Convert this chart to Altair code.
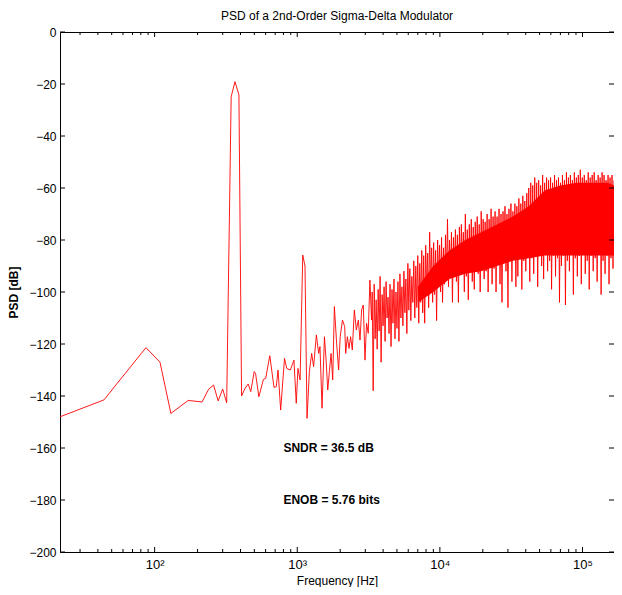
import altair as alt
import pandas as pd

# ---- data ----
low_freq = [21.7, 44.1, 86.9, 109, 130, 172, 215, 239, 259, 279, 300, 320,
            344, 366, 390, 407, 431, 453, 472, 499, 510, 538, 579, 601, 642,
            687, 713, 733, 765, 814, 844, 894, 948, 984, 1011, 1047, 1093,
            1133, 1171, 1216, 1262, 1302, 1362, 1413, 1443, 1492, 1551, 1593,
            1636, 1680, 1726, 1773, 1821, 1888, 1950, 2000, 2075, 2151, 2186,
            2245, 2306, 2366, 2432, 2513, 2596, 2682, 2755, 2827, 2905, 2984,
            3062, 3146, 3232, 3317]
low_psd = [-148, -141.5, -121.4, -127, -146.7, -141.7, -142.3, -137.4, -135.8,
           -141.9, -137.3, -142.6, -24.9, -19.1, -24.2, -140, -137, -135.4,
           -138.3, -130.6, -131.3, -140.3, -133.6, -133.2, -124.5, -136.7,
           -136.4, -130, -145.4, -125.5, -129.4, -130, -126.2, -142.8, -129.4,
           -133.8, -85.8, -90, -148.6, -130.6, -123.6, -128.7, -116.5, -123.6,
           -121, -144.7, -117.2, -126.2, -137.7, -130.6, -123.6, -133.8,
           -105.6, -119.7, -130, -117.2, -110.8, -113.3, -123.6, -117.2,
           -121.7, -117.2, -122.3, -106.9, -114.6, -110.8, -118.5, -106.9,
           -105, -126.2, -112, -115.9, -95.4, -110.8]

# dense noise region: upper swings and lower swings
peak_freq = [3353, 3462, 3575, 3691, 3811, 3935, 4063, 4195, 4331, 4472, 4617,
             4767, 4922, 5082, 5247, 5418, 5594, 5776, 5964, 6158, 6358, 6565,
             6778, 6998, 7226, 7461, 7703, 7954, 8212, 8479, 8755, 9040, 9334,
             9637, 9951, 10274, 10608, 10953, 11309, 11677, 12056, 12449,
             12853, 13271, 13703, 14148, 14608, 15083, 15573, 16080, 16603,
             17143, 17700, 18276, 18870, 19484, 20117, 20771, 21447, 22144,
             22864, 23613, 24381, 25174, 25992, 26837, 27710, 28611, 29541,
             30502, 31493, 32517, 33575, 34666, 35794, 36957, 38159, 39400,
             40681, 42004, 43370, 44780, 46236, 47740, 49292, 50895, 52550,
             54259, 56023, 57845, 59726, 61668, 63673, 65744, 67882, 70089,
             72368, 74721, 77151, 79660, 82250, 84925, 87687, 90538, 93482,
             96522, 99661, 102901, 106247, 109702, 113270, 116953, 120756,
             124683, 128737, 132923, 137246, 141709, 146317, 151075, 155987,
             161060, 166297]
peak_psd = [-100, -97, -103, -99, -94, -101, -98, -96, -102, -97, -99, -95,
            -100, -96, -93, -98, -92, -95, -89, -91, -94, -88, -90, -86, -89,
            -84, -86, -82, -85, -77, -83, -81, -84, -80, -82, -79, -83, -78,
            -72, -80, -77, -79, -76, -78, -75, -74, -77, -70, -76, -74, -72,
            -75, -73, -71, -74, -69, -72, -73, -70, -72, -68, -71, -69, -71,
            -68, -70, -69, -67, -70, -68, -66, -69, -66, -67, -64, -66, -63,
            -65, -62, -60, -58, -59, -56, -58, -57, -59, -55, -58, -56, -57,
            -56, -58, -55, -57, -56, -58, -55, -57, -54, -56, -55, -57, -54,
            -56, -55, -53, -56, -55, -57, -54, -56, -55, -54, -57, -55, -56,
            -54, -55, -57, -55, -56, -55, -57]

dip_freq = [3407, 3518, 3633, 3751, 3872, 3998, 4128, 4263, 4401, 4544, 4691,
            4844, 5001, 5164, 5332, 5505, 5684, 5869, 6060, 6257, 6461, 6671,
            6888, 7111, 7343, 7582, 7827, 8082, 8344, 8616, 8896, 9186, 9484,
            9792, 10111, 10440, 10779, 11130, 11491, 11865, 12250, 12650,
            13060, 13485, 13924, 14376, 14844, 15326, 15824, 16339, 16871,
            17419, 17985, 18571, 19174, 19798, 20442, 21105, 21792, 22501,
            23232, 23987, 24767, 25571, 26403, 27261, 28148, 29063, 30007,
            30994, 32001, 33041, 34116, 35225, 36371, 37553, 38774, 40035,
            41337, 42681, 44069, 45502, 46982, 48510, 50087, 51716, 53397,
            55133, 56926, 58778, 60689, 62662, 64698, 66803, 68977, 71219,
            73535, 75926, 78395, 80944, 83577, 86294, 89101, 91998, 94990,
            98078, 101268, 104561, 107960, 111471, 115097, 118839, 122703,
            126694, 130813, 135067, 139460, 143994, 148676, 153511, 158504,
            163657]
dip_psd = [-138, -118, -122, -115, -127, -113, -119, -110, -116, -121, -112,
           -118, -114, -119, -110, -113, -108, -116, -107, -111, -104, -110,
           -106, -112, -104, -108, -112, -100, -106, -98, -104, -101, -111,
           -96, -100, -104, -97, -95, -98, -94, -104, -92, -96, -104, -93,
           -91, -100, -94, -103, -92, -96, -99, -90, -93, -100, -89, -95, -92,
           -100, -88, -97, -91, -100, -88, -97, -104, -87, -92, -106, -88,
           -96, -86, -98, -94, -86, -99, -88, -92, -85, -96, -87, -93, -86,
           -98, -85, -90, -95, -85, -92, -88, -99, -86, -94, -87, -104, -90,
           -86, -105, -88, -92, -85, -101, -87, -94, -86, -97, -85, -93, -88,
           -99, -86, -92, -87, -96, -85, -101, -88, -93, -86, -97, -87, -91]

# solid core of the noise band
core_freq = [7000, 9000, 11677, 15083, 19484, 25174, 32517, 42004, 54259,
             70089, 90538, 116953, 151075, 166297]
core_top = [-98, -90, -84, -80, -77, -74, -71, -67, -61, -59, -58, -58, -58,
            -59]
core_bot = [-104, -100, -95, -93, -92, -90, -88, -87, -86, -86, -86, -86,
            -86, -86]

x_major = [100, 1000, 10000, 100000]
x_minor = [30, 40, 50, 60, 70, 80, 90, 200, 300, 400, 500, 600, 700, 800, 900,
           2000, 3000, 4000, 5000, 6000, 7000, 8000, 9000, 20000, 30000,
           40000, 50000, 60000, 70000, 80000, 90000]
y_ticks = [-200, -180, -160, -140, -120, -100, -80, -60, -40, -20, 0]

notes = ["SNDR = 36.5 dB", "ENOB = 5.76 bits"]
note_freq = [800, 800]
note_psd = [-160, -180]

# ---- tables ----
line_df = pd.DataFrame({"f": low_freq + peak_freq + dip_freq,
                        "psd": low_psd + peak_psd + dip_psd})
line_df = line_df.sort_values("f").reset_index(drop=True)
line_df["order"] = range(len(line_df))
core_df = pd.DataFrame({"f": core_freq, "psd": core_top, "bot": core_bot})
note_df = pd.DataFrame({"f": note_freq, "psd": note_psd, "text": notes})
xmaj_df = pd.DataFrame({"f": x_major})
xmin_df = pd.DataFrame({"f": x_minor})
yt_df = pd.DataFrame({"psd": y_ticks})

W, H = 554, 520
xscale = alt.Scale(type="log", domain=[21.7, 166297], nice=False)
yscale = alt.Scale(domain=[-200, 0], nice=False)

label_expr = ("datum.value == 100 ? '10²' : datum.value == 1000 ? '10³' : "
              "datum.value == 10000 ? '10⁴' : '10⁵'")

x_axis = alt.Axis(values=x_major, labelExpr=label_expr, ticks=False,
                  domain=False, grid=False, title="Frequency [Hz]",
                  labelFontSize=13, titleFontSize=12, titleFontWeight="normal",
                  labelPadding=6, titlePadding=4, labelColor="black",
                  titleColor="black", labelFont="Liberation Sans",
                  titleFont="Liberation Sans")
y_axis = alt.Axis(values=y_ticks, ticks=False, domain=False, grid=False,
                  title="PSD [dB]", labelFontSize=12, titleFontSize=12,
                  titleFontWeight="bold", labelPadding=4, titlePadding=8,
                  labelColor="black", titleColor="black",
                  labelFont="Liberation Sans", titleFont="Liberation Sans")

X = alt.X("f:Q", scale=xscale, axis=x_axis)
Y = alt.Y("psd:Q", scale=yscale, axis=y_axis)

core = alt.Chart(core_df).mark_area(color="#ff0000", clip=True).encode(
    x=X, y=Y, y2="bot:Q",
)

line = alt.Chart(line_df).mark_line(color="#ff0000", strokeWidth=0.9,
                                     clip=True).encode(
    x=X, y=Y, order="order:Q",
)

text = alt.Chart(note_df).mark_text(align="left", baseline="middle",
                                    fontWeight="bold", fontSize=12,
                                    font="Liberation Sans",
                                    color="black").encode(
    x=X, y=Y, text="text:N",
)

def xticks(df, y0, y1):
    return alt.Chart(df).mark_rule(color="black", strokeWidth=1).encode(
        x=X, y=alt.value(y0), y2=alt.value(y1))

def yticks(x0, x1):
    return alt.Chart(yt_df).mark_rule(color="black", strokeWidth=1).encode(
        y=Y, x=alt.value(x0), x2=alt.value(x1))

ticks = [
    xticks(xmaj_df, H, H - 5), xticks(xmin_df, H, H - 3),
    xticks(xmaj_df, 0, 5), xticks(xmin_df, 0, 3),
    yticks(0, 5), yticks(W, W - 5),
]

chart = alt.layer(core, line, text, *ticks).properties(
    width=W, height=H,
    title=alt.TitleParams("PSD of a 2nd-Order Sigma-Delta Modulator",
                          fontSize=12, fontWeight="normal",
                          font="Liberation Sans", color="black", offset=3),
    autosize=alt.AutoSizeParams(type="none"),
    padding={"left": 52, "top": 24, "right": 0, "bottom": 35},
).configure(background="white").configure_view(stroke="black", strokeWidth=1)

chart.save("out.html", embed_options={"renderer": "svg", "actions": False})
